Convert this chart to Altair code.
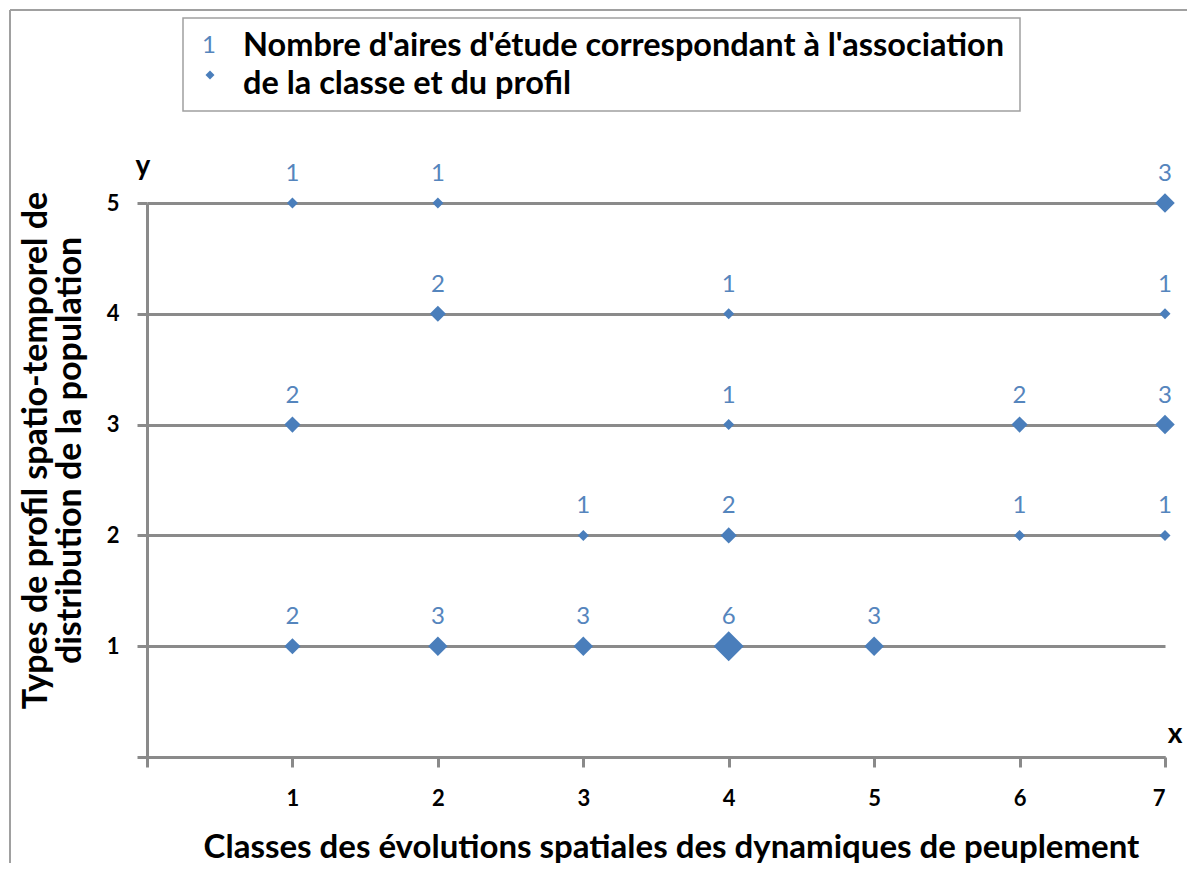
import altair as alt
import pandas as pd

# ---- data ----
CLASSE_X = [1, 2, 7, 2, 4, 7, 1, 4, 6, 7, 3, 4, 6, 7, 1, 2, 3, 4, 5]
PROFIL_Y = [5, 5, 5, 4, 4, 4, 3, 3, 3, 3, 2, 2, 2, 2, 1, 1, 1, 1, 1]
NOMBRE = [1, 1, 3, 2, 1, 1, 2, 1, 2, 3, 1, 2, 1, 1, 2, 3, 3, 6, 3]

X_TICKS = [0, 1, 2, 3, 4, 5, 6, 7]
Y_TICKS = [0, 1, 2, 3, 4, 5]
X_TITLE = "Classes des évolutions spatiales des dynamiques de peuplement"
Y_TITLE = ["Types de profil spatio-temporel de", "distribution de la population"]
LEGEND_LINES = ["Nombre d'aires d'étude correspondant à l'association", "de la classe et du profil"]
LEGEND_NUMBER = ["1"]
X_LETTER = ["x"]
Y_LETTER = ["y"]

BLUE = "#4a7ebb"
LABEL_BLUE = "#5585bd"
GRAY = "#8a8a8a"
FONT = "Lato"

df = pd.DataFrame({"x": CLASSE_X, "y": PROFIL_Y, "n": NOMBRE})

W, H = 1018, 554

xenc = alt.X(
    "x:Q",
    scale=alt.Scale(domain=[0, 7], nice=False, zero=False),
    axis=alt.Axis(
        values=X_TICKS, format="d",
        labelExpr="datum.value == 0 ? '' : datum.label",
        grid=False,
        domainColor=GRAY, domainWidth=3,
        tickColor=GRAY, tickWidth=3, tickSize=10,
        labelFont=FONT, labelFontSize=22, labelFontWeight="bold", labelColor="black",
        labelPadding=21,
        title=X_TITLE, titleFont=FONT, titleFontSize=33, titleFontWeight="bold",
        titleColor="black", titlePadding=22, titleX=524, titleAlign="center",
    ),
)
yenc = alt.Y(
    "y:Q",
    scale=alt.Scale(domain=[0, 5], nice=False, zero=False),
    axis=alt.Axis(
        values=Y_TICKS, format="d",
        labelExpr="datum.value == 0 ? '' : datum.label",
        grid=True, gridColor=GRAY, gridWidth=3,
        domainColor=GRAY, domainWidth=3,
        tickColor=GRAY, tickWidth=3, tickSize=10,
        labelFont=FONT, labelFontSize=22, labelFontWeight="bold", labelColor="black",
        labelPadding=18,
        title=Y_TITLE, titleFont=FONT, titleFontSize=34, titleFontWeight="bold",
        titleColor="black", titleX=-111, titleY=247, titleBaseline="middle",
        titleAngle=270, titleLineHeight=34,
    ),
)

base = alt.Chart(df)

points = base.mark_point(shape="diamond", filled=True, color=BLUE, opacity=1).encode(
    x=xenc, y=yenc,
    size=alt.Size("n:Q", scale=alt.Scale(domain=[1, 2, 3, 6], range=[121, 260, 380, 900]), legend=None),
)

labels = base.mark_text(dy=-29, font=FONT, fontSize=24, color=LABEL_BLUE, baseline="middle").encode(
    x="x:Q", y="y:Q", text="n:Q"
)

one = pd.DataFrame({"k": [0]})

# outer frame (top and left edges)
frame_top = alt.Chart(one).mark_rule(stroke="#a0a0a0", strokeWidth=2).encode(
    x=alt.value(-137), x2=alt.value(1040), y=alt.value(-193)
)
frame_left = alt.Chart(one).mark_rule(stroke="#a0a0a0", strokeWidth=2).encode(
    x=alt.value(-137), y=alt.value(-193), y2=alt.value(700)
)
# legend box
legbox = alt.Chart(one).mark_rect(fill="white", stroke="#a0a0a0", strokeWidth=1.5).encode(
    x=alt.value(36), x2=alt.value(873), y=alt.value(-185), y2=alt.value(-92)
)
leg_num = alt.Chart(pd.DataFrame({"t": LEGEND_NUMBER})).mark_text(
    font=FONT, fontSize=24, color=LABEL_BLUE, baseline="middle", align="center"
).encode(x=alt.value(62), y=alt.value(-157), text="t:N")
leg_sym = alt.Chart(one).mark_point(shape="diamond", filled=True, color=BLUE, opacity=1, size=80).encode(
    x=alt.value(63), y=alt.value(-128)
)
leg_txt = alt.Chart(one).mark_text(
    text=LEGEND_LINES, font=FONT, fontSize=32.5, fontWeight="bold", color="black",
    align="left", baseline="alphabetic", lineHeight=38,
).encode(x=alt.value(96), y=alt.value(-147))

x_letter = alt.Chart(pd.DataFrame({"t": X_LETTER})).mark_text(
    font=FONT, fontSize=28, fontWeight="bold", color="black", baseline="middle", align="center"
).encode(x=alt.value(1028), y=alt.value(532), text="t:N")
y_letter = alt.Chart(pd.DataFrame({"t": Y_LETTER})).mark_text(
    font=FONT, fontSize=28, fontWeight="bold", color="black", baseline="middle", align="center"
).encode(x=alt.value(-4), y=alt.value(-36), text="t:N")

chart = alt.layer(frame_top, frame_left, legbox, leg_num, leg_sym, leg_txt, points, labels, x_letter, y_letter).properties(
    width=W, height=H,
    autosize=alt.AutoSizeParams(type="none"),
    padding={"left": 139, "top": 195, "right": 23, "bottom": 106},
).configure(background="white").configure_view(stroke=None)

chart.save("out.html", embed_options={"renderer": "svg", "actions": False})
